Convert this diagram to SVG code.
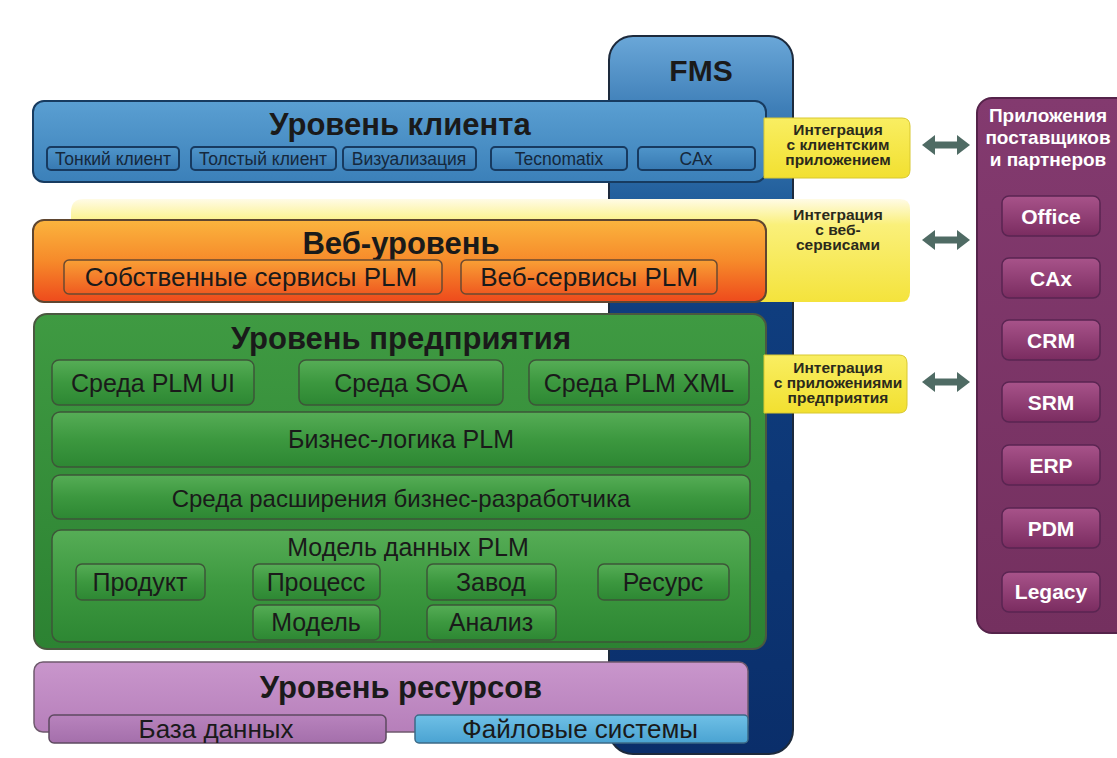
<svg xmlns="http://www.w3.org/2000/svg" width="1117" height="758" viewBox="0 0 1117 758">
<defs>
<linearGradient id="gFms" x1="0" y1="0" x2="0" y2="1">
<stop offset="0" stop-color="#6aa7d8"/><stop offset="0.1" stop-color="#3f7fb8"/><stop offset="0.22" stop-color="#23609d"/><stop offset="0.38" stop-color="#0f3d7e"/><stop offset="1" stop-color="#0a2e6a"/>
</linearGradient>
<linearGradient id="gClient" x1="0" y1="0" x2="0" y2="1"><stop offset="0" stop-color="#5a9fd2"/><stop offset="1" stop-color="#3b80b9"/></linearGradient>
<linearGradient id="gClientSub" x1="0" y1="0" x2="0" y2="1"><stop offset="0" stop-color="#4f95ca"/><stop offset="1" stop-color="#3779b2"/></linearGradient>
<linearGradient id="gWeb" x1="0" y1="0" x2="0" y2="1"><stop offset="0" stop-color="#fbb43e"/><stop offset="0.5" stop-color="#f68a2a"/><stop offset="1" stop-color="#ee4a1c"/></linearGradient>
<linearGradient id="gWebSub" x1="0" y1="0" x2="0" y2="1"><stop offset="0" stop-color="#f9a035"/><stop offset="1" stop-color="#ef5a20"/></linearGradient>
<linearGradient id="gYellowBand" x1="0" y1="0" x2="0" y2="1"><stop offset="0" stop-color="#fffbe6"/><stop offset="0.25" stop-color="#faf07a"/><stop offset="1" stop-color="#f4e33c"/></linearGradient>
<linearGradient id="gYellow" x1="0" y1="0" x2="0" y2="1"><stop offset="0" stop-color="#f9ee62"/><stop offset="1" stop-color="#f2e030"/></linearGradient>
<linearGradient id="gEnt" x1="0" y1="0" x2="0" y2="1"><stop offset="0" stop-color="#3f9a42"/><stop offset="1" stop-color="#2c8232"/></linearGradient>
<linearGradient id="gEntSub" x1="0" y1="0" x2="0" y2="1"><stop offset="0" stop-color="#56ad56"/><stop offset="0.5" stop-color="#3c983f"/><stop offset="1" stop-color="#2d8733"/></linearGradient>
<linearGradient id="gRes" x1="0" y1="0" x2="0" y2="1"><stop offset="0" stop-color="#c996cc"/><stop offset="1" stop-color="#b67fba"/></linearGradient>
<linearGradient id="gDb" x1="0" y1="0" x2="0" y2="1"><stop offset="0" stop-color="#b883bd"/><stop offset="1" stop-color="#a46fab"/></linearGradient>
<linearGradient id="gFs" x1="0" y1="0" x2="0" y2="1"><stop offset="0" stop-color="#6fc0e6"/><stop offset="1" stop-color="#4aa3d2"/></linearGradient>
<linearGradient id="gPanel" x1="0" y1="0" x2="0" y2="1"><stop offset="0" stop-color="#833a6f"/><stop offset="1" stop-color="#74305f"/></linearGradient>
<linearGradient id="gBtn" x1="0" y1="0" x2="0" y2="1"><stop offset="0" stop-color="#a8538a"/><stop offset="1" stop-color="#7a2c60"/></linearGradient>
<marker id="ah" viewBox="0 0 13 20" refX="1" refY="10" markerWidth="13" markerHeight="20" markerUnits="userSpaceOnUse" orient="auto-start-reverse">
<path d="M0,0 L13,10 L0,20 z" fill="#4f6b64"/>
</marker>
<style>
.t{font-family:"Liberation Sans",Arial,sans-serif;fill:#1a1a1a;text-anchor:middle}
.title{font-weight:bold;font-size:31px}
.sub{font-size:25px}
.csub{font-size:17.5px;fill:#15283c}
.integ{font-weight:bold;font-size:15.5px;fill:#2b2a1c}
.wt{fill:#ffffff;font-weight:bold}
.cbox{fill:url(#gClientSub);stroke:#173a60;stroke-width:2}
.ebox{fill:url(#gEntSub);stroke:#3d5638;stroke-width:1.5}
.btn{fill:url(#gBtn);stroke:#5a2552;stroke-width:1.5}
.yel{fill:url(#gYellow);stroke:#d8c830;stroke-width:1}
.conn{stroke:#4f6b64;stroke-width:7;fill:none}
</style>
</defs>
<rect width="1117" height="758" fill="#ffffff"/>

<g id="fms">
<rect x="609" y="36" width="184" height="718" rx="24" fill="url(#gFms)" stroke="#1d2a3c" stroke-width="2"/>
<text class="t" x="701" y="81" style="font-weight:bold;font-size:30px">FMS</text>
</g>

<g id="integ-web-band">
<path d="M71,212 Q71,199 84,199 L900,199 Q910,199 910,209 L910,292 Q910,302 900,302 L71,302 Z" fill="url(#gYellowBand)"/>
</g>

<g id="client-level">
<rect x="33" y="101" width="733" height="81" rx="11" fill="url(#gClient)" stroke="#173b60" stroke-width="2"/>
<text class="t title" x="400" y="135">Уровень клиента</text>
<rect class="cbox" x="47" y="147" width="132" height="23" rx="4"/>
<text class="t csub" x="113" y="165">Тонкий клиент</text>
<rect class="cbox" x="191" y="147" width="145" height="23" rx="4"/>
<text class="t csub" x="263" y="165">Толстый клиент</text>
<rect class="cbox" x="343" y="147" width="133" height="23" rx="4"/>
<text class="t csub" x="409" y="165">Визуализация</text>
<rect class="cbox" x="491" y="147" width="136" height="23" rx="4"/>
<text class="t csub" x="559" y="165">Tecnomatix</text>
<rect class="cbox" x="638" y="147" width="117" height="23" rx="4"/>
<text class="t csub" x="696" y="165">CAx</text>
</g>

<g id="integ-client">
<path d="M764,118 L902,118 Q910,118 910,126 L910,170 Q910,178 902,178 L764,178 Z" class="yel"/>
<text class="t integ" x="838" y="135">Интеграция</text>
<text class="t integ" x="838" y="150">с клиентским</text>
<text class="t integ" x="838" y="165">приложением</text>
</g>

<g id="web-level">
<rect x="33" y="220" width="733" height="82" rx="11" fill="url(#gWeb)" stroke="#5f4630" stroke-width="2"/>
<text class="t title" x="401" y="254">Веб-уровень</text>
<rect x="64" y="260" width="378" height="34" rx="5" fill="url(#gWebSub)" stroke="#6a4a30" stroke-width="1.5"/>
<text class="t" x="251" y="286" style="font-size:26px">Собственные сервисы PLM</text>
<rect x="461" y="260" width="256" height="34" rx="5" fill="url(#gWebSub)" stroke="#6a4a30" stroke-width="1.5"/>
<text class="t" x="589" y="286" style="font-size:26px">Веб-сервисы PLM</text>
</g>

<g id="integ-web">
<text class="t integ" x="838" y="220">Интеграция</text>
<text class="t integ" x="838" y="235">с веб-</text>
<text class="t integ" x="838" y="250">сервисами</text>
</g>

<g id="enterprise-level">
<rect x="34" y="314" width="732" height="335" rx="13" fill="url(#gEnt)" stroke="#4a5840" stroke-width="2"/>
<text class="t title" x="401" y="349">Уровень предприятия</text>
<rect class="ebox" x="52" y="360" width="202" height="45" rx="7"/>
<text class="t sub" x="153" y="392">Среда PLM UI</text>
<rect class="ebox" x="299" y="360" width="204" height="45" rx="7"/>
<text class="t sub" x="401" y="392">Среда SOA</text>
<rect class="ebox" x="529" y="360" width="220" height="45" rx="7"/>
<text class="t sub" x="639" y="392">Среда PLM XML</text>
<rect class="ebox" x="52" y="412" width="698" height="55" rx="8"/>
<text class="t sub" x="401" y="448">Бизнес-логика PLM</text>
<rect class="ebox" x="52" y="475" width="698" height="44" rx="8"/>
<text class="t" x="401" y="507" style="font-size:24px">Среда расширения бизнес-разработчика</text>
<rect class="ebox" x="52" y="530" width="698" height="112" rx="9"/>
<text class="t sub" x="408" y="556">Модель данных PLM</text>
<rect class="ebox" x="76" y="564" width="129" height="36" rx="6"/>
<text class="t sub" x="140" y="591">Продукт</text>
<rect class="ebox" x="253" y="564" width="127" height="36" rx="6"/>
<text class="t sub" x="316" y="591">Процесс</text>
<rect class="ebox" x="427" y="564" width="129" height="36" rx="6"/>
<text class="t sub" x="491" y="591">Завод</text>
<rect class="ebox" x="598" y="564" width="131" height="36" rx="6"/>
<text class="t sub" x="663" y="591">Ресурс</text>
<rect class="ebox" x="253" y="605" width="127" height="35" rx="6"/>
<text class="t sub" x="316" y="631">Модель</text>
<rect class="ebox" x="427" y="605" width="129" height="35" rx="6"/>
<text class="t sub" x="491" y="631">Анализ</text>
</g>

<g id="integ-enterprise">
<path d="M764,355 L899,355 Q907,355 907,363 L907,405 Q907,413 899,413 L764,413 Z" class="yel"/>
<text class="t integ" x="838" y="373">Интеграция</text>
<text class="t integ" x="838" y="388">с приложениями</text>
<text class="t integ" x="838" y="403">предприятия</text>
</g>

<g id="resource-level">
<rect x="34" y="662" width="714" height="70" rx="9" fill="url(#gRes)" stroke="#6f5a6e" stroke-width="1.5"/>
<text class="t title" x="401" y="698">Уровень ресурсов</text>
<rect x="49" y="715" width="337" height="28" rx="5" fill="url(#gDb)" stroke="#5e4a60" stroke-width="1.5"/>
<text class="t" x="216" y="738" style="font-size:26px">База данных</text>
<rect x="415" y="715" width="333" height="28" rx="4" fill="url(#gFs)" stroke="#3d6a86" stroke-width="1.5"/>
<text class="t" x="580" y="738" style="font-size:26px">Файловые системы</text>
</g>

<g id="partners-panel">
<rect x="977" y="98" width="160" height="535" rx="15" fill="url(#gPanel)" stroke="#55234a" stroke-width="2"/>
<text class="t wt" x="1048" y="122" style="font-size:19px">Приложения</text>
<text class="t wt" x="1048" y="144" style="font-size:19px">поставщиков</text>
<text class="t wt" x="1048" y="166" style="font-size:19px">и партнеров</text>
</g>
<g id="btn-office"><rect class="btn" x="1002" y="196" width="98" height="40" rx="7"/><text class="t wt" x="1051" y="224" style="font-size:21px">Office</text></g>
<g id="btn-cax"><rect class="btn" x="1002" y="258" width="98" height="40" rx="7"/><text class="t wt" x="1051" y="286" style="font-size:21px">CAx</text></g>
<g id="btn-crm"><rect class="btn" x="1002" y="320" width="98" height="40" rx="7"/><text class="t wt" x="1051" y="348" style="font-size:21px">CRM</text></g>
<g id="btn-srm"><rect class="btn" x="1002" y="382" width="98" height="40" rx="7"/><text class="t wt" x="1051" y="410" style="font-size:21px">SRM</text></g>
<g id="btn-erp"><rect class="btn" x="1002" y="445" width="98" height="40" rx="7"/><text class="t wt" x="1051" y="473" style="font-size:21px">ERP</text></g>
<g id="btn-pdm"><rect class="btn" x="1002" y="508" width="98" height="40" rx="7"/><text class="t wt" x="1051" y="536" style="font-size:21px">PDM</text></g>
<g id="btn-legacy"><rect class="btn" x="1002" y="572" width="98" height="40" rx="7"/><text class="t wt" x="1051" y="599" style="font-size:21px">Legacy</text></g>

<g id="connectors">
<line class="conn" x1="934" y1="145" x2="958" y2="145" marker-start="url(#ah)" marker-end="url(#ah)"/>
<line class="conn" x1="934" y1="240" x2="958" y2="240" marker-start="url(#ah)" marker-end="url(#ah)"/>
<line class="conn" x1="934" y1="382" x2="958" y2="382" marker-start="url(#ah)" marker-end="url(#ah)"/>
</g>
</svg>
